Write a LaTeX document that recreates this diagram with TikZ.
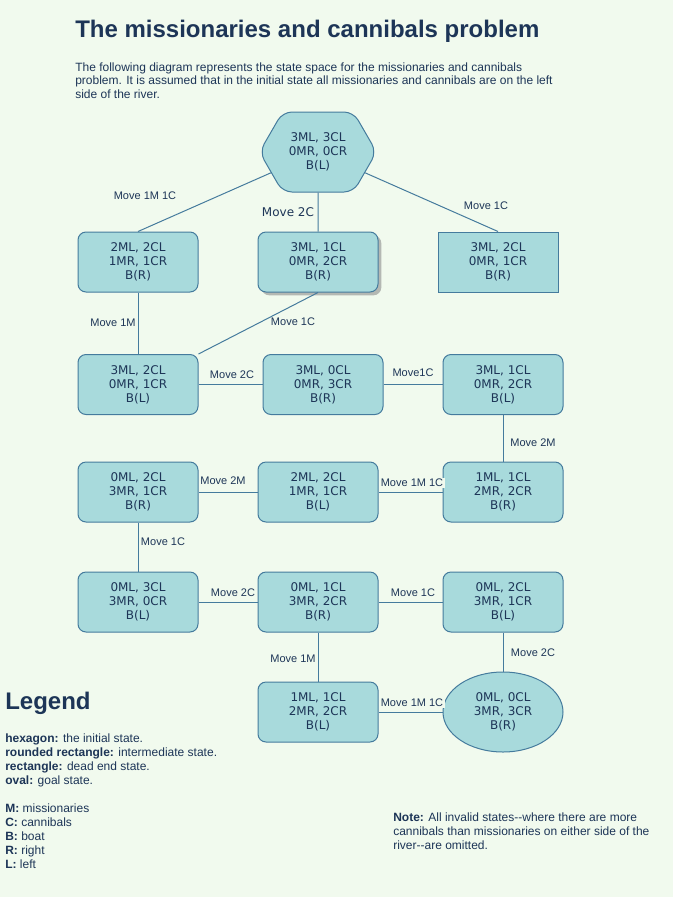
\documentclass[tikz,border=0pt]{standalone}
\usepackage{fontspec}
\setmainfont{Liberation Sans}
\newfontfamily\dejavu{DejaVu Sans}
\usetikzlibrary{shapes.geometric,shapes.symbols,shadows}
\definecolor{bgc}{HTML}{F1FAEE}
\definecolor{fillc}{HTML}{A8DADC}
\definecolor{strokec}{HTML}{457B9D}
\definecolor{textc}{HTML}{1D3557}
\begin{document}
\begin{tikzpicture}[x=0.75pt,y=-0.75pt,
  state/.style={draw=strokec, fill=fillc, line width=0.75pt, text=textc,
    font=\dejavu\fontsize{9}{10.5}\selectfont, align=center,
    minimum width=90pt, minimum height=45pt, inner sep=0pt},
  rstate/.style={state, rounded corners=6pt},
  lbl/.style={font=\fontsize{8.25}{10}\selectfont, text=textc, inner sep=1pt},
  txt/.style={font=\fontsize{9}{10.5}\selectfont, text=textc, inner sep=0pt, anchor=base west},
  conn/.style={draw=strokec, line width=0.75pt}
]
\fill[bgc] (0,0) rectangle (673,897);
\useasboundingbox (0,0) rectangle (673,897);

% title and description
\node[anchor=base west, inner sep=0pt, text=textc, font=\bfseries\fontsize{18}{22}\selectfont] (title) at (75,37) {The missionaries and cannibals problem};
\node[txt] (d1) at (75,71) {The following diagram represents the state space for the missionaries and cannibals};
\node[txt] (d2) at (75,84.5) {problem. It is assumed that in the initial state all missionaries and cannibals are on the left};
\node[txt] (d3) at (75,98) {side of the river.};

% states
\node[state, signal, signal to=west and east, signal pointer angle=120,
      minimum width=87.75pt, minimum height=60pt, rounded corners=7pt] (hex) at (318,152) {3ML, 3CL\\0MR, 0CR\\B(L)};

\node[rstate] (a1) at (138,262) {2ML, 2CL\\1MR, 1CR\\B(R)};
\node[rstate, drop shadow={shadow xshift=2.5pt, shadow yshift=-2.5pt, fill=black!45, opacity=0.6}] (a2) at (318,262) {3ML, 1CL\\0MR, 2CR\\B(R)};
\node[state] (a3) at (498,262) {3ML, 2CL\\0MR, 1CR\\B(R)};

\node[rstate] (b1) at (138,384.5) {3ML, 2CL\\0MR, 1CR\\B(L)};
\node[rstate] (b2) at (323,384.5) {3ML, 0CL\\0MR, 3CR\\B(R)};
\node[rstate] (b3) at (503,384.5) {3ML, 1CL\\0MR, 2CR\\B(L)};

\node[rstate] (c1) at (138,492) {0ML, 2CL\\3MR, 1CR\\B(R)};
\node[rstate] (c2) at (318,492) {2ML, 2CL\\1MR, 1CR\\B(L)};
\node[rstate] (c3) at (503,492) {1ML, 1CL\\2MR, 2CR\\B(R)};

\node[rstate] (e1) at (138,602) {0ML, 3CL\\3MR, 0CR\\B(L)};
\node[rstate] (e2) at (318,602) {0ML, 1CL\\3MR, 2CR\\B(R)};
\node[rstate] (e3) at (503,602) {0ML, 2CL\\3MR, 1CR\\B(L)};

\node[rstate] (f2) at (318,712) {1ML, 1CL\\2MR, 2CR\\B(L)};
\node[state, ellipse, minimum width=90pt, minimum height=60pt] (goal) at (503,712) {0ML, 0CL\\3MR, 3CR\\B(R)};

% connectors
\draw[conn] (hex) -- (a1.north);
\draw[conn] (hex) -- (a2);
\draw[conn] (hex) -- (a3.north);
\draw[conn] (a1) -- (b1);
\draw[conn] (a2.south) -- (b1.north east);
\draw[conn] (b1) -- (b2);
\draw[conn] (b2) -- (b3);
\draw[conn] (b3) -- (c3);
\draw[conn] (c3) -- (c2);
\draw[conn] (c2) -- (c1);
\draw[conn] (c1) -- (e1);
\draw[conn] (e1) -- (e2);
\draw[conn] (e2) -- (e3);
\draw[conn] (e2) -- (f2);
\draw[conn] (e3) -- (goal);
\draw[conn] (f2) -- (goal);

% connector labels
\node[lbl] (l1) at (145,196) {Move 1M 1C};
\node[lbl, font=\dejavu\fontsize{9}{10.5}\selectfont] (l2) at (288,212) {Move 2C};
\node[lbl] (l3) at (486,206) {Move 1C};
\node[lbl] (l4) at (113,323) {Move 1M};
\node[lbl] (l5) at (293,322) {Move 1C};
\node[lbl] (l6) at (232,375) {Move 2C};
\node[lbl] (l7) at (413,373) {Move1C};
\node[lbl] (l8) at (533,443) {Move 2M};
\node[lbl] (l9) at (223,481) {Move 2M};
\node[lbl, fill=bgc] (l10) at (412,483) {Move 1M 1C};
\node[lbl] (l11) at (163,542) {Move 1C};
\node[lbl] (l12) at (233,593) {Move 2C};
\node[lbl] (l13) at (413,593) {Move 1C};
\node[lbl] (l14) at (293,659) {Move 1M};
\node[lbl] (l15) at (533,653) {Move 2C};
\node[lbl, fill=bgc] (l16) at (412,703) {Move 1M 1C};

% legend
\node[anchor=base west, inner sep=0pt, text=textc, font=\bfseries\fontsize{18}{22}\selectfont] (legend) at (5,709) {Legend};
\node[txt] (g1) at (5,742.5) {\textbf{hexagon:} the initial state.};
\node[txt] (g2) at (5,756.5) {\textbf{rounded rectangle:} intermediate state.};
\node[txt] (g3) at (5,770.5) {\textbf{rectangle:} dead end state.};
\node[txt] (g4) at (5,784.5) {\textbf{oval:} goal state.};
\node[txt] (k1) at (5,812.5) {\textbf{M:} missionaries};
\node[txt] (k2) at (5,826.5) {\textbf{C:} cannibals};
\node[txt] (k3) at (5,840.5) {\textbf{B:} boat};
\node[txt] (k4) at (5,854.5) {\textbf{R:} right};
\node[txt] (k5) at (5,868.5) {\textbf{L:} left};

% note
\node[txt] (n1) at (393,821) {\textbf{Note:} All invalid states-{}-where there are more};
\node[txt] (n2) at (393,835) {cannibals than missionaries on either side of the};
\node[txt] (n3) at (393,849) {river-{}-are omitted.};
\end{tikzpicture}
\end{document}
